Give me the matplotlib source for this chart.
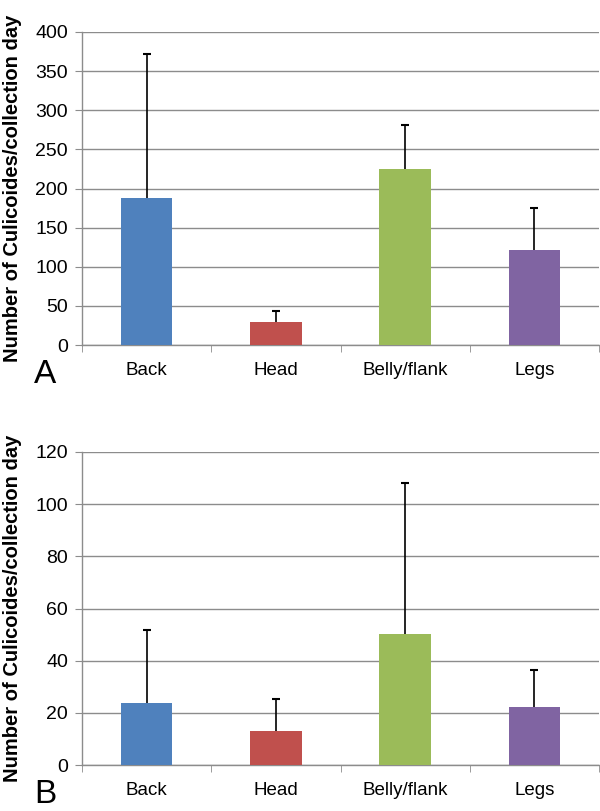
import numpy as np
import matplotlib
matplotlib.use("Agg")
import matplotlib.pyplot as plt

plt.rcParams['font.family'] = ['Liberation Sans', 'DejaVu Sans']

categories = ["Back", "Head", "Belly/flank", "Legs"]
colors = ["#4F81BD", "#C0504D", "#9BBB59", "#8064A2"]

# panel A
means_a = [188, 29, 225, 122]
err_a = [184, 14, 56, 53]
# panel B
means_b = [23.6, 13.0, 50.3, 22.2]
err_b = [28.2, 12.3, 57.7, 14.1]

fig = plt.figure(figsize=(6, 8.11), dpi=100)

W, H = 600, 811


def panel(rect, means, errs, ymax, ystep, letter, label_y):
    left, top, right, bottom = rect
    ax = fig.add_axes([left / W, 1 - bottom / H, (right - left) / W, (bottom - top) / H])
    x = np.arange(len(categories))
    means = np.array(means)
    tops = means + np.array(errs)
    ax.bar(x, means, width=0.4, color=colors, zorder=3)
    # upper-only error bars
    ax.vlines(x, means, tops, color="black", linewidth=1.2, zorder=4)
    ax.plot(x, tops, linestyle="none", marker="_", markersize=6,
            markeredgewidth=1.5, color="black", zorder=4)
    ax.set_xlim(-0.5, len(categories) - 0.5)
    ax.set_ylim(0, ymax)
    ax.set_yticks(np.arange(0, ymax + 1, ystep))
    ax.set_xticks(x)
    ax.set_xticklabels(categories, fontsize=13.5)
    ax.set_xticks(np.arange(-0.5, len(categories)), minor=True)
    ax.tick_params(axis="x", which="major", length=0, pad=12)
    ax.tick_params(axis="x", which="minor", length=5, color="#8c8c8c", direction="out")
    ax.tick_params(axis="y", length=5, color="#8c8c8c", labelsize=14, pad=5)
    ax.yaxis.grid(True, color="#8c8c8c", linewidth=1.0, zorder=0)
    for s in ["top", "right"]:
        ax.spines[s].set_visible(False)
    for s in ["left", "bottom"]:
        ax.spines[s].set_color("#8c8c8c")
        ax.spines[s].set_linewidth(1.0)
    fig.text(13 / W, 1 - label_y / H, "Number of Culicoides/collection day",
             rotation=90, fontsize=14.5, fontweight="bold", ha="center", va="center")
    fig.text(34 / W, 1 - (bottom + 38) / H, letter, fontsize=24, ha="left", va="baseline")
    return ax


panel((82, 32, 599, 345), means_a, err_a, 400, 50, "A", 188)
panel((82, 452, 599, 765), means_b, err_b, 120, 20, "B", 608)

fig.savefig("out.png", dpi=100)
